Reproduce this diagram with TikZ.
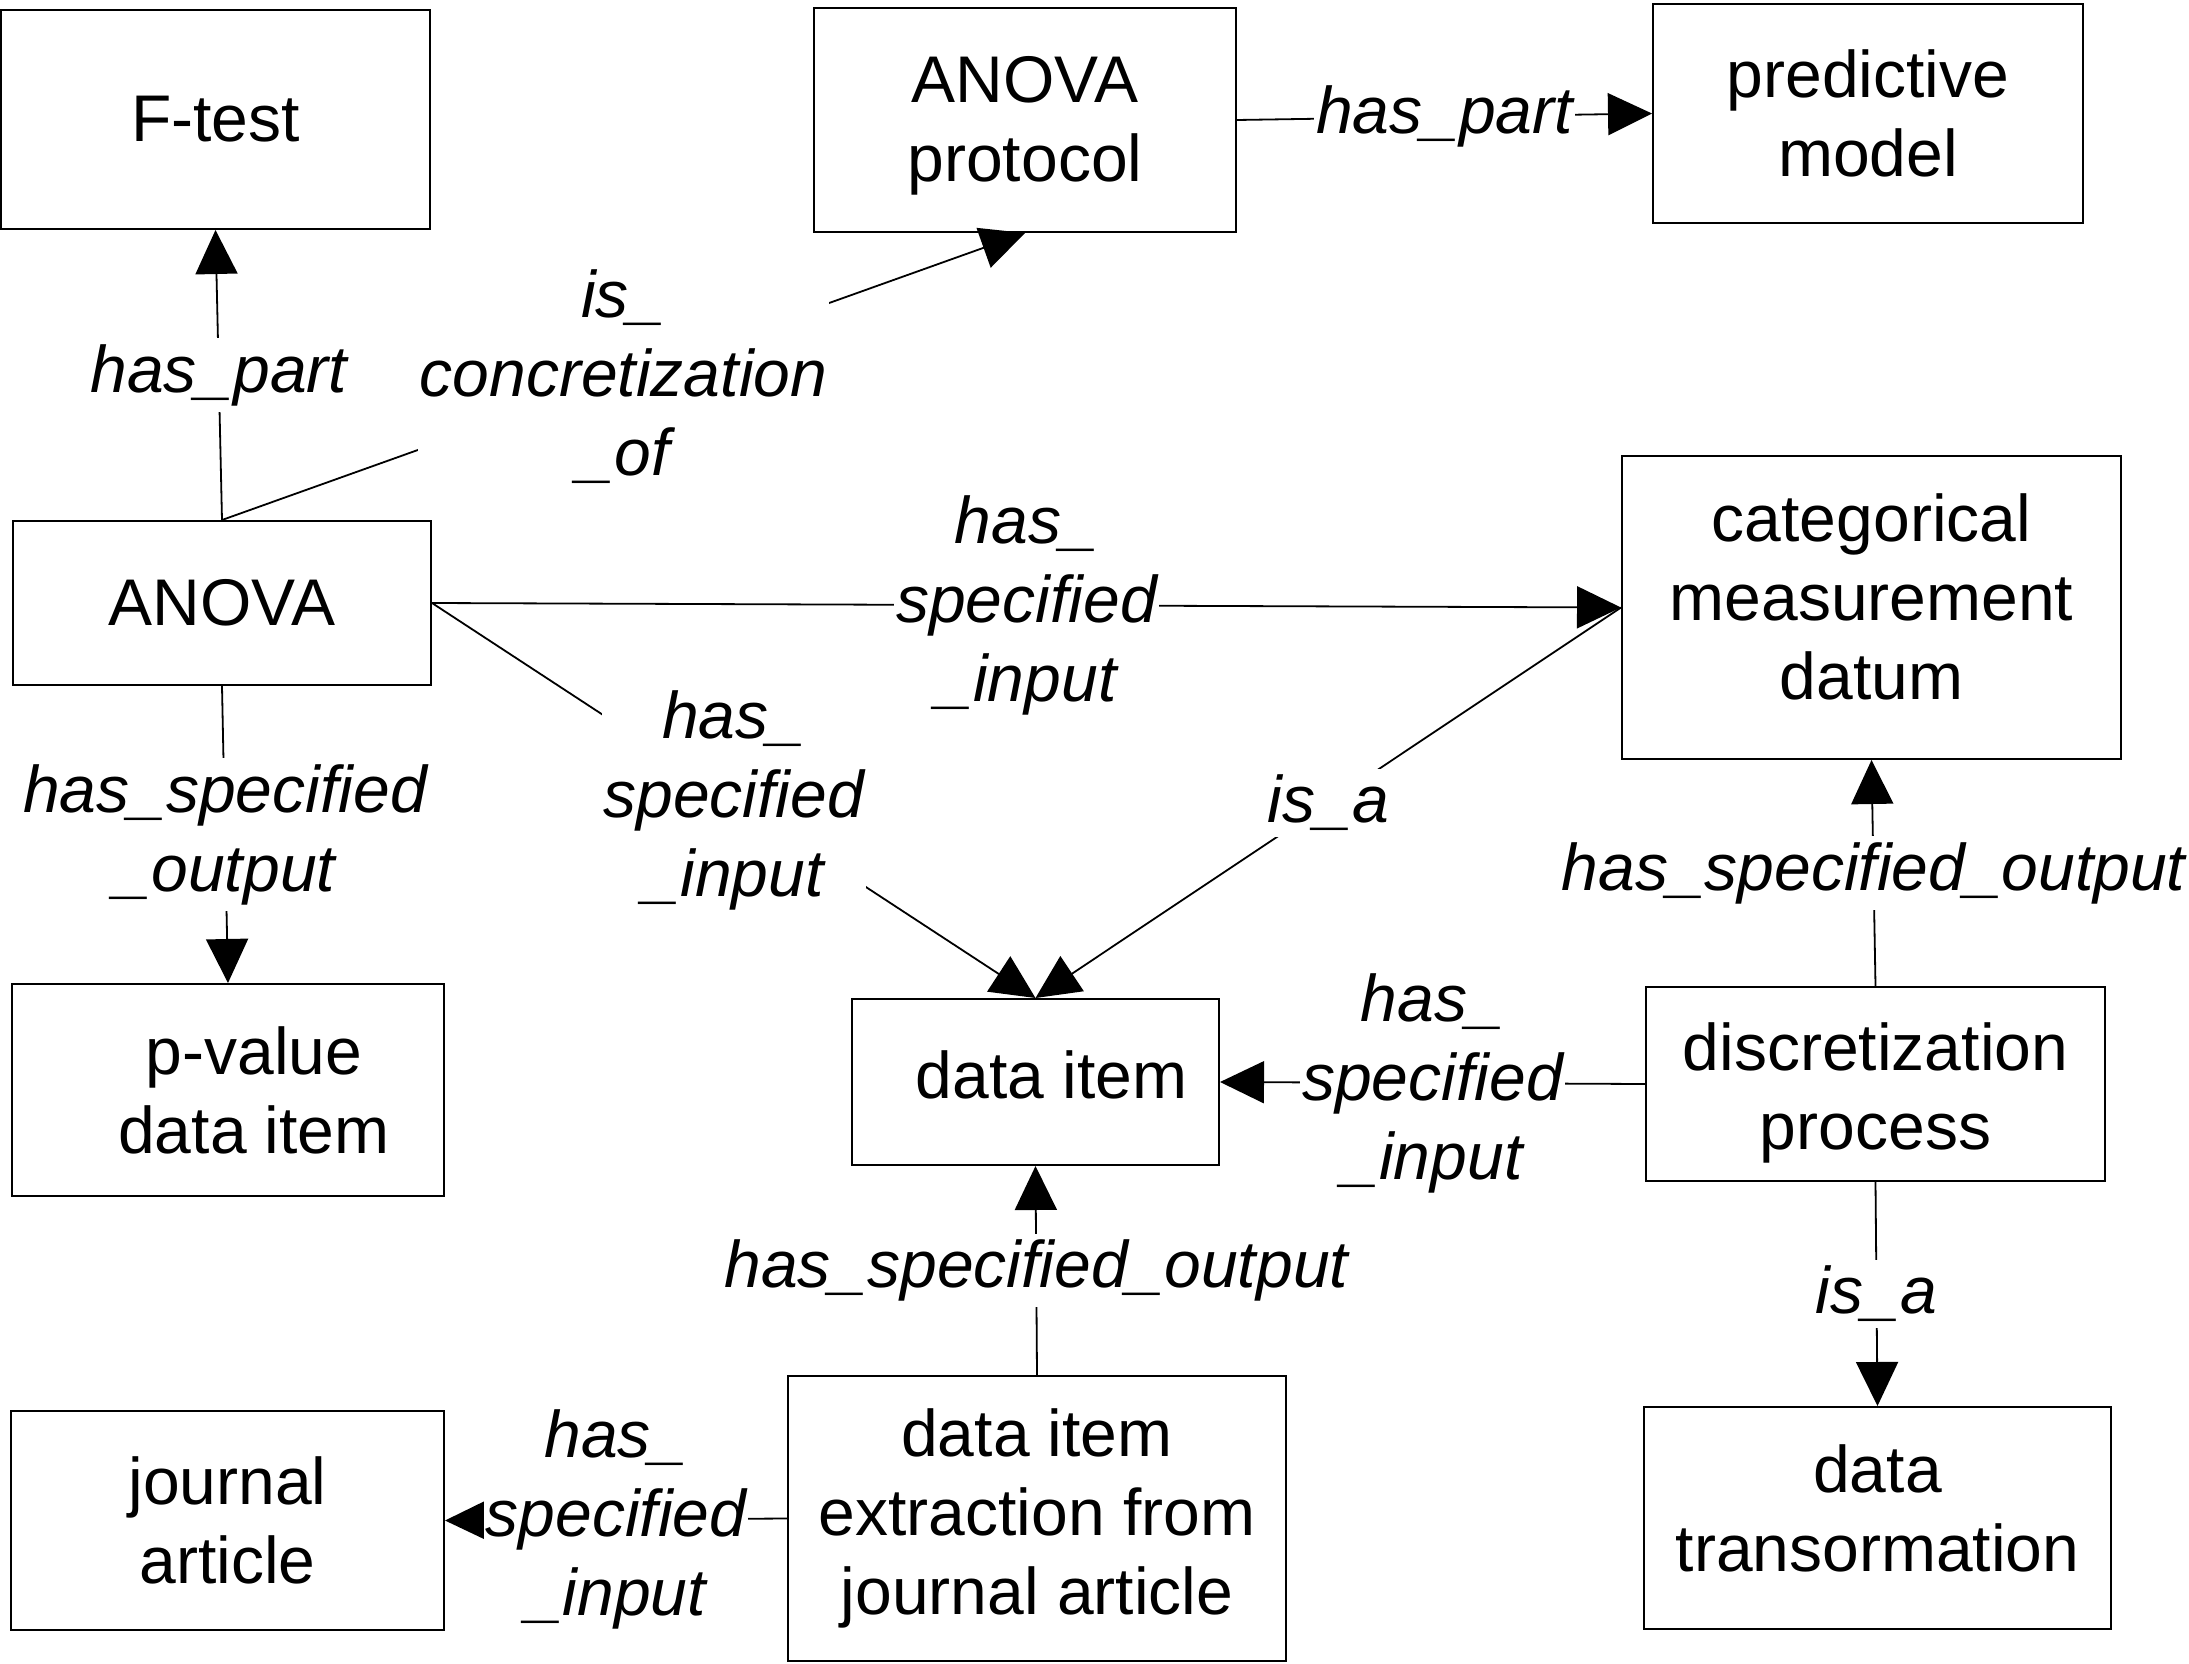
\documentclass[tikz,border=0pt]{standalone}
\usepackage{fontspec}
\setmainfont{Liberation Sans}
\usetikzlibrary{arrows.meta}
\newcommand\bxfont{\fontsize{33}{39.5}\selectfont}
\newcommand\rlfont{\fontsize{33}{39.5}\selectfont\itshape}
\newcommand\xdepth[1]{\rule[-#1]{0pt}{#1}}
\newcommand\xheight[1]{\rule{0pt}{#1}}
\begin{document}
\begin{tikzpicture}[x=0.5pt,y=-0.5pt,
  nbox/.style 2 args={draw, line width=1pt, minimum width=#1, minimum height=#2, inner sep=0pt, align=center, font=\bxfont},
  rel/.style={fill=white, font=\rlfont, align=center, inner xsep=1pt, inner ysep=3pt},
  arr/.style={line width=0.9pt, -{Triangle[length=22pt,width=21pt]}}]
\fill[white] (0,0) rectangle (2189,1664);
\useasboundingbox (0,0) rectangle (2189,1664);

% boxes
\node[nbox={214.5pt}{109.5pt}] (ftest) at (215.5,119.5) {F-test};
\node[nbox={211pt}{112pt}] (proto) at (1025,120) {\xheight{28.5pt}ANOVA\\protocol};
\node[nbox={215pt}{109.5pt}] (pred) at (1868,113.5) {predictive\\model};
\node[nbox={209pt}{82pt}] (anova) at (222,603) {ANOVA};
\node[nbox={249.5pt}{151.5pt}] (cat) at (1871.5,607.5) {categorical\\measurement\\datum\xdepth{11pt}};
\node[nbox={216pt}{106pt}] (pval) at (228,1090) {\hspace*{26pt}p-value\\\hspace*{26pt}data item};
\node[nbox={183.5pt}{83pt}] (ditem) at (1035.5,1082) {\hspace*{16pt}data item\xdepth{7pt}};
\node[nbox={229.5pt}{97pt}] (disc) at (1875.5,1084) {\xheight{33pt}discretization\\process};
\node[nbox={216.5pt}{109.5pt}] (journal) at (227.5,1520.5) {journal\\article};
\node[nbox={249pt}{142.5pt}] (extr) at (1037,1518.5) {data item\\extraction from\\journal article};
\node[nbox={233.5pt}{111pt}] (trans) at (1877.5,1518) {data\\transormation\xdepth{10pt}};

% connectors
\draw[arr] (anova.north) -- node[rel]{has\_part} (ftest.south);
\draw[arr] (anova.north) -- node[rel]{is\_\\concretization\\\_of} (proto.south);
\draw[arr] (proto.east) -- node[rel]{has\_part} (pred.west);
\draw[arr] (anova.east) -- node[rel]{has\_\\specified\\\_input} (cat.west);
\draw[arr] (anova.east) -- node[rel]{has\_\\specified\\\_input} (ditem.north);
\draw[arr] (cat.west) -- node[rel]{is\_a} (ditem.north);
\draw[arr] (anova.south) -- node[rel]{has\_specified\\\_output} (pval.north);
\draw[arr] (disc.north) -- node[rel]{has\_specified\_output} (cat.south);
\draw[arr] (disc.west) -- node[rel]{has\_\\specified\\\_input} (ditem.east);
\draw[arr] (disc.south) -- node[rel]{is\_a} (trans.north);
\draw[arr] (extr.north) -- node[rel]{has\_specified\_output} (ditem.south);
\draw[arr] (extr.west) -- node[rel]{has\_\\specified\\\_input} (journal.east);
\end{tikzpicture}
\end{document}
